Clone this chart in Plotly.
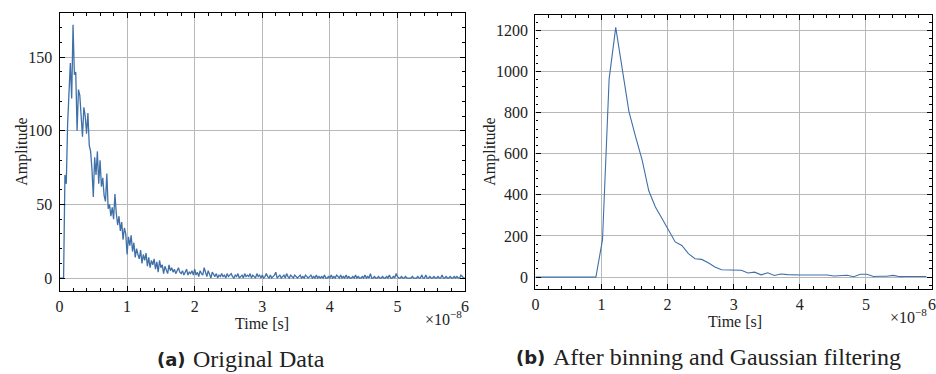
import plotly.graph_objects as go

# ---------------- data ----------------
# (a) original data, sampled every 0.02e-8 s from 0 to 6e-8 s
raw_amp = [
    0, 0, 0, 0, 70, 64, 105, 130, 146, 122,
    172, 138, 140, 100, 128, 124, 108, 96, 116, 110,
    98, 112, 90, 86, 74, 55, 82, 70, 86, 64,
    80, 62, 68, 56, 52, 71, 47, 50, 42, 48,
    40, 57, 44, 36, 42, 32, 38, 26, 34, 30,
    16, 28, 22, 29, 18, 24, 14, 20, 16, 13,
    19, 10, 16, 12, 17, 8, 14, 7, 12, 9,
    13, 6, 11, 4, 12, 7, 9, 3, 8, 5,
    3, 9, 5, 7, 4, 6, 3, 5, 7, 4,
    3, 5, 2, 4, 6, 2, 4, 3, 5, 2,
    6, 2, 4, 1, 5, 3, 2, 7, 3, 1,
    5, 2, 0, 4, 2, 1, 3, 0, 2, 1,
    3, 1, 2, 0, 3, 1, 2, 3, 1, 0,
    2, 1, 3, 0, 1, 2, 0, 3, 1, 2,
    1, 3, 0, 2, 1, 0, 3, 1, 2, 0,
    2, 0, 1, 3, 1, 0, 2, 0, 1, 2,
    4, 0, 1, 2, 0, 1, 2, 0, 3, 1,
    0, 2, 1, 0, 2, 1, 0, 1, 2, 0,
    1, 0, 2, 1, 0, 1, 2, 0, 1, 0,
    2, 0, 1, 0, 1, 0, 2, 0, 0, 1,
    0, 2, 0, 1, 0, 2, 1, 0, 2, 0,
    1, 0, 2, 0, 1, 0, 0, 1, 0, 2,
    0, 1, 0, 0, 1, 0, 2, 0, 1, 0,
    3, 0, 0, 1, 0, 0, 1, 0, 0, 1,
    0, 0, 1, 0, 2, 0, 0, 1, 0, 3,
    1, 0, 0, 1, 0, 0, 1, 0, 0, 0,
    0, 1, 0, 0, 0, 1, 0, 0, 2, 0,
    0, 2, 0, 0, 1, 0, 0, 1, 0, 0,
    1, 0, 0, 2, 0, 0, 1, 0, 0, 1,
    0, 0, 1, 0, 1, 0, 0, 2, 1, 0,
    0,
]
raw_step = 0.02e-8

# (b) after binning and Gaussian filtering, bins every 0.1e-8 s
bin_amp = [
    0, 0, 0, 0, 0, 0, 0, 0, 0, 0,
    182, 963, 1215, 1016, 805, 683, 569, 420, 341, 285,
    228, 171, 154, 114, 89, 86, 70, 49, 36, 35,
    34, 33, 20, 24, 11, 21, 8, 15, 12, 10,
    10, 10, 10, 10, 10, 5, 8, 9, 2, 14,
    14, 3, 4, 4, 8, 2, 3, 4, 5, 3,
]
bin_step = 0.1e-8
bin_offset = 0.015e-8

x_ticks = [0, 1e-8, 2e-8, 3e-8, 4e-8, 5e-8, 6e-8]
x_tick_labels = ["0", "1", "2", "3", "4", "5", "6"]

raw_t = [i * raw_step for i in range(len(raw_amp))]
bin_t = [bin_offset + i * bin_step for i in range(len(bin_amp))]
bin_t[0] = 0.0

# ---------------- figure ----------------
W, H = 936, 374
SERIF = "Liberation Serif"
SANS_BOLD = "DejaVu Sans"
LINE = "#3f70a8"
GRID = "#b8b8b8"

fig = go.Figure()
fig.add_trace(go.Scatter(x=raw_t, y=raw_amp, mode="lines",
                         line=dict(color=LINE, width=1.3),
                         xaxis="x", yaxis="y", showlegend=False))
fig.add_trace(go.Scatter(x=bin_t, y=bin_amp, mode="lines",
                         line=dict(color=LINE, width=1.1),
                         xaxis="x2", yaxis="y2", showlegend=False))

def xax(domain, anchor):
    return dict(domain=domain, anchor=anchor, range=[0, 6e-8],
                tickvals=x_ticks, ticktext=x_tick_labels,
                ticks="inside", ticklen=5, tickwidth=1, tickcolor="black",
                minor=dict(ticks="inside", ticklen=2.5, dtick=0.2e-8, tick0=0,
                           tickcolor="black", showgrid=False),
                showline=True, linecolor="black", linewidth=1.3, mirror="ticks",
                showgrid=True, gridcolor=GRID, gridwidth=1, zeroline=False,
                tickfont=dict(family=SERIF, size=16, color="#222"),
                ticklabelstandoff=1)

def yax(domain, anchor, rng, dtick, mdtick):
    return dict(domain=domain, anchor=anchor, range=rng, dtick=dtick, tick0=0,
                ticks="inside", ticklen=5, tickwidth=1, tickcolor="black",
                minor=dict(ticks="inside", ticklen=2.5, dtick=mdtick, tick0=0,
                           tickcolor="black", showgrid=False),
                showline=True, linecolor="black", linewidth=1.3, mirror="ticks",
                showgrid=True, gridcolor=GRID, gridwidth=1, zeroline=False,
                tickfont=dict(family=SERIF, size=16, color="#222"),
                ticklabelstandoff=3)

fig.update_layout(
    width=W, height=H, margin=dict(l=0, r=0, t=0, b=0),
    paper_bgcolor="white", plot_bgcolor="white",
    font=dict(family=SERIF),
    xaxis=xax([56 / W, 465 / W], "y"),
    yaxis=yax([1 - 291 / H, 1 - 13 / H], "x", [-8.8, 180], 50, 10),
    xaxis2=xax([536 / W, 1.0], "y2"),
    yaxis2=yax([1 - 289 / H, 1 - 15 / H], "x2", [-58, 1275], 200, 40),
)

def ann(text, x, y, size=16, family=SERIF, angle=0, xanchor="center"):
    fig.add_annotation(text=text, x=x / W, y=1 - y / H, xref="paper", yref="paper",
                       showarrow=False, textangle=angle, xanchor=xanchor, yanchor="middle",
                       borderpad=0,
                       font=dict(family=family, size=size, color="#222"))

# axis titles
ann("Time [s]", 260, 323)
ann("Time [s]", 737, 321)
ann("Amplitude", 18, 152, angle=-90)
ann("Amplitude", 490, 152, angle=-90)
# offset labels
ann("×10<sup>−8</sup>", 443, 318)
ann("×10<sup>−8</sup>", 912, 316)
# captions
ann("<b>(a)</b>", 153, 359, size=18, family=SANS_BOLD, xanchor="left")
ann("Original Data", 190, 359, size=24, xanchor="left")
ann("<b>(b)</b>", 515, 357, size=18, family=SANS_BOLD, xanchor="left")
ann("After binning and Gaussian filtering", 553, 357, size=24, xanchor="left")

fig.write_html("out.html")
